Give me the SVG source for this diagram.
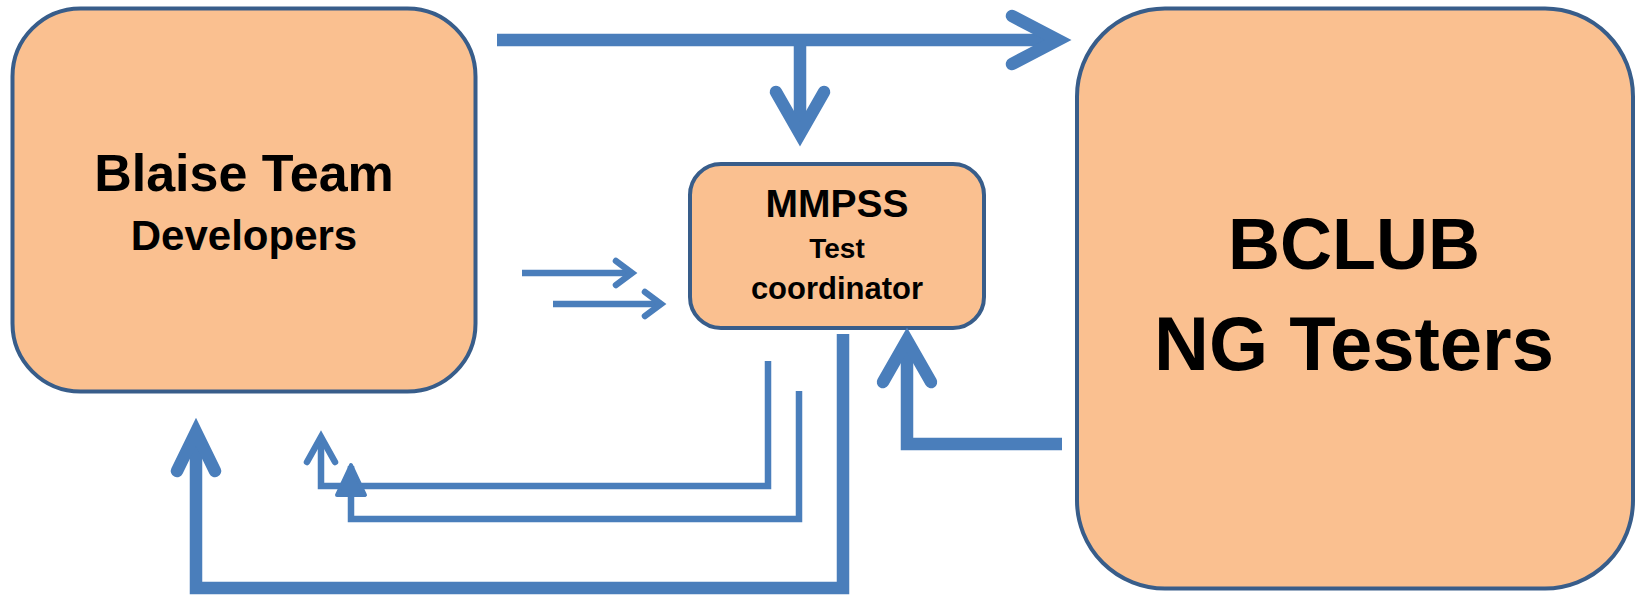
<svg xmlns="http://www.w3.org/2000/svg" width="1636" height="598" viewBox="0 0 1636 598">
<style>
.box{fill:#FAC090;stroke:#385D8A;stroke-width:4}
.t{font-family:"Liberation Sans",Arial,sans-serif;font-weight:bold;fill:#000;text-anchor:middle}
.thick{fill:none;stroke:#4A7EBB;stroke-width:12.5;stroke-linejoin:miter}
.thin{fill:none;stroke:#4A7EBB;stroke-width:6.5;stroke-linejoin:miter}
.head{fill:none;stroke:#4A7EBB;stroke-linecap:round;stroke-linejoin:miter}
</style>
<rect width="1636" height="598" fill="#fff"/>
<g id="blaise">
<rect class="box" x="12.5" y="8.5" width="463" height="383" rx="68"/>
<text class="t" x="244" y="191" font-size="52">Blaise Team</text>
<text class="t" x="244" y="250" font-size="42">Developers</text>
</g>
<g id="mmpss">
<rect class="box" x="690" y="164" width="294" height="164" rx="31"/>
<text class="t" x="837" y="217" font-size="39">MMPSS</text>
<text class="t" x="837" y="258" font-size="28">Test</text>
<text class="t" x="837" y="299" font-size="31">coordinator</text>
</g>
<g id="bclub">
<rect class="box" x="1077" y="8.5" width="556" height="580" rx="88"/>
<text class="t" x="1354" y="269" font-size="72">BCLUB</text>
<text class="t" x="1354" y="370" font-size="76">NG Testers</text>
</g>
<g id="connectors">
<path class="thick" d="M497,40 H1054"/>
<path class="head" stroke-width="12.5" d="M1012,16 L1058,40 L1012,64"/>
<path class="thick" d="M800,40 V128"/>
<path class="head" stroke-width="12.5" d="M776,92 L800,134 L824,92"/>
<path class="thin" d="M522,273 H630"/>
<path class="head" stroke-width="6.5" d="M616,261 L632,273 L616,285"/>
<path class="thin" d="M553,304 H659"/>
<path class="head" stroke-width="6.5" d="M645,292 L661,304 L645,316"/>
<path class="thin" d="M768,361 V486 H321 V438"/>
<path class="head" stroke-width="6.5" d="M307,462 L321,437 L335,462"/>
<path class="thin" d="M799,391 V519 H351 V466"/>
<path fill="#4A7EBB" stroke="#4A7EBB" stroke-width="4" stroke-linejoin="round" d="M351,465 L365,495 L337,495 Z"/>
<path class="thick" d="M843,334 V588 H196 V434"/>
<path class="head" stroke-width="12.5" d="M177,471 L196,432 L215,471"/>
<path class="thick" d="M1062,444 H907 V342"/>
<path class="head" stroke-width="12.5" d="M883,382 L907,340 L931,382"/>
</g>
</svg>
